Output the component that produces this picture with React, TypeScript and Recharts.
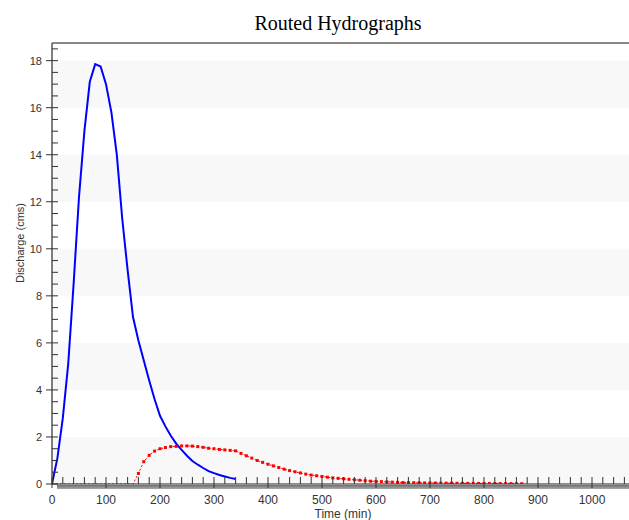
import React from "react"
import { LineChart, Line, XAxis, YAxis, ReferenceArea, ReferenceLine } from "recharts"

// sampling interval of both hydrographs (min)
const STEP = 10

// inflow hydrograph (cms), t = 0, 10, 20 ...
const inflow = [
  0, 1.1, 2.8, 5.1, 8.5, 12.2, 15.0, 17.1, 17.85, 17.75, 17.0, 15.8, 14.0, 11.3, 9.1, 7.1, 6.1, 5.25,
  4.4, 3.6, 2.9, 2.45, 2.05, 1.72, 1.45, 1.2, 0.98, 0.82, 0.68, 0.55, 0.46, 0.38, 0.32, 0.26, 0.21,
]

// routed outflow (cms), t = 0, 10, 20 ...
const routed = [
  0, 0, 0, 0, 0, 0, 0, 0, 0, 0, 0, 0, 0, 0, 0, 0,
  0.45, 0.95, 1.22, 1.4, 1.5, 1.55, 1.59, 1.6, 1.62, 1.62, 1.61, 1.59, 1.56, 1.52, 1.5, 1.47, 1.45, 1.43,
  1.41, 1.3, 1.2, 1.1, 1.0, 0.92, 0.84, 0.77, 0.7, 0.63, 0.57, 0.52, 0.47, 0.42, 0.38, 0.35, 0.32, 0.29,
  0.26, 0.24, 0.22, 0.2, 0.18, 0.16, 0.14, 0.12, 0.11, 0.1, 0.09, 0.08, 0.07, 0.065, 0.06, 0.055, 0.05,
  0.047, 0.044, 0.041, 0.038, 0.035, 0.033, 0.031, 0.029, 0.027, 0.025, 0.023, 0.021, 0.02, 0.018,
  0.017, 0.016, 0.015, 0.014, 0.013,
]

const xLabels = [0, 100, 200, 300, 400, 500, 600, 700, 800, 900, 1000]
const yLabels = [0, 2, 4, 6, 8, 10, 12, 14, 16, 18]
const bands = [
  [0, 2],
  [4, 6],
  [8, 10],
  [12, 14],
  [16, 18],
]

const inflowData = inflow.map((q, i) => ({ t: i * STEP, q }))
const routedData = routed.map((q, i) => ({ t: i * STEP, q }))

const xTicks = Array.from({ length: 56 }, (_, i) => i * 20)
const yTicks = Array.from({ length: 38 }, (_, i) => i * 0.5)

const SANS = "'Liberation Sans', Arial, sans-serif"
const INK = "#333"

const XTick = (props: any) => {
  const { x, y, payload } = props
  const major = payload.value % 100 === 0
  return (
    <g>
      <line x1={x} x2={x} y1={y - 7} y2={major ? y + 4 : y} stroke={INK} />
      {major && xLabels.includes(payload.value) && (
        <text x={x} y={y + 20} textAnchor="middle" fontSize={12} fontFamily={SANS} fill={INK}>
          {payload.value}
        </text>
      )}
    </g>
  )
}

const YTick = (props: any) => {
  const { x, y, payload } = props
  const major = yLabels.includes(payload.value)
  return (
    <g>
      <line x1={major ? x - 6 : x} x2={x + 6} y1={y} y2={y} stroke={INK} />
      {major && (
        <text x={x - 10} y={y + 4} textAnchor="end" fontSize={11} fontFamily={SANS} fill={INK}>
          {payload.value}
        </text>
      )}
    </g>
  )
}

const Marker = (props: any) => {
  const { cx, cy, index, value } = props
  if (cx == null || cy == null || !value) return <g key={index} />
  return <rect key={index} x={cx - 1.5} y={cy - 1.5} width={3} height={3} fill="#ff0000" />
}

export default function App() {
  return (
    <div
      style={{
        position: "absolute",
        left: 0,
        top: 0,
        width: 629,
        height: 520,
        overflow: "hidden",
        background: "#fff",
      }}
    >
      <div
        style={{
          position: "absolute",
          left: 57,
          top: 485,
          width: 600,
          height: 4,
          background: "linear-gradient(#6f6f6f, #a8a8a8)",
        }}
      />
      <LineChart width={646} height={520} margin={{ top: 43, right: 0, left: 0, bottom: 0 }}>
        {bands.map(([a, b]) => (
          <ReferenceArea key={a} y1={a} y2={b} fill="#f8f8f8" fillOpacity={1} stroke="none" />
        ))}
        <ReferenceLine y={18.75} stroke="#111" />
        <XAxis
          type="number"
          dataKey="t"
          domain={[0, 1100]}
          ticks={xTicks}
          interval={0}
          height={36}
          tickSize={0}
          tickMargin={0}
          tickLine={false}
          axisLine={{ stroke: "#222" }}
          tick={<XTick />}
          allowDataOverflow
        />
        <YAxis
          type="number"
          domain={[0, 18.75]}
          ticks={yTicks}
          interval={0}
          width={52}
          tickSize={0}
          tickMargin={0}
          tickLine={false}
          axisLine={{ stroke: "#555", strokeWidth: 1.5 }}
          tick={<YTick />}
          allowDataOverflow
        />
        <Line
          data={routedData}
          dataKey="q"
          stroke="#ff0000"
          strokeWidth={1}
          strokeDasharray="2 2"
          dot={<Marker />}
          isAnimationActive={false}
        />
        <Line
          data={inflowData}
          dataKey="q"
          stroke="#0000ff"
          strokeWidth={2}
          dot={false}
          isAnimationActive={false}
        />
      </LineChart>
      <svg
        width={629}
        height={520}
        style={{ position: "absolute", left: 0, top: 0, pointerEvents: "none" }}
      >
        <text
          x={338}
          y={29.5}
          textAnchor="middle"
          fontSize={20}
          fontFamily="'Liberation Serif', 'Times New Roman', serif"
          fill="#000"
        >
          Routed Hydrographs
        </text>
        <text x={343} y={517.5} textAnchor="middle" fontSize={12} fontFamily={SANS} fill={INK}>
          Time (min)
        </text>
        <text
          x={24}
          y={243}
          textAnchor="middle"
          fontSize={11}
          fontFamily={SANS}
          fill={INK}
          transform="rotate(-90 24 243)"
        >
          Discharge (cms)
        </text>
      </svg>
    </div>
  )
}
